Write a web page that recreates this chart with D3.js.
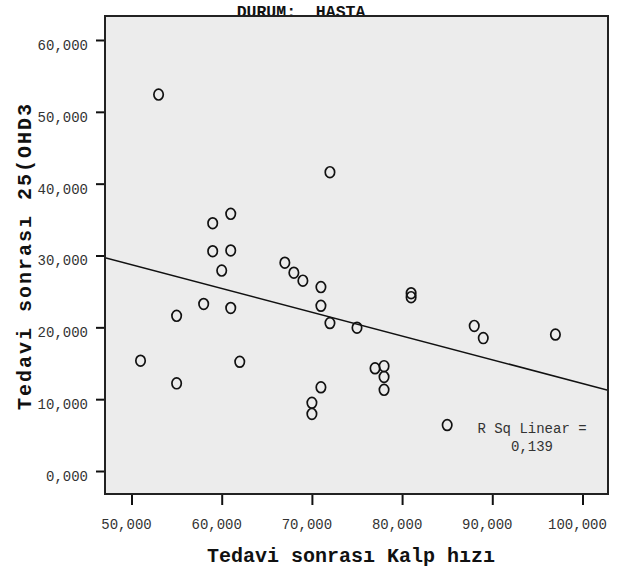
<!DOCTYPE html>
<html>
<head>
<meta charset="utf-8">
<script src="https://cdn.jsdelivr.net/npm/d3@7"></script>
<style>
  body { margin: 0; background: #fff; }
  text { font-family: "Courier New", "Liberation Mono", monospace; }
</style>
</head>
<body>
<div id="chart"></div>
<script>
// values (thousands shown with comma decimals)
const kalpHizi = [53, 72, 61, 59, 59, 61, 60, 67, 68, 69, 71, 71, 58, 61, 55, 72, 75,
                  51, 62, 55, 71, 70, 70, 81, 81, 88, 89, 97, 77, 78, 78, 78, 85];
const ohd3 = [52.4, 41.6, 35.8, 34.5, 30.6, 30.7, 27.9, 29.0, 27.6, 26.5, 25.6, 23.0, 23.25, 22.7, 21.6, 20.6, 19.95,
              15.35, 15.2, 12.2, 11.65, 9.5, 7.95, 24.75, 24.2, 20.2, 18.5, 19.0, 14.3, 14.6, 13.1, 11.3, 6.4];
const xTicks = [50, 60, 70, 80, 90, 100];
const yTicks = [0, 10, 20, 30, 40, 50, 60];
const rSqLines = ["R Sq Linear =", "0,139"];
const chartTitle = "DURUM:  HASTA";
const xTitle = "Tedavi sonrası Kalp hızı";
const yTitle = "Tedavi sonrası 25(OHD3";

const width = 632, height = 579;
const plot = { left: 105, right: 608, top: 16, bottom: 494 };

const points = kalpHizi.map((k, i) => ({ x: k, y: ohd3[i] }));

// turkish style number format: 50,000
const trFormat = d3.formatLocale({ decimal: ",", thousands: ".", grouping: [3], currency: ["", ""] }).format(".3f");

const x = d3.scaleLinear().domain([47.06, 102.83]).range([plot.left, plot.right]);
const y = d3.scaleLinear().domain([-3.2, 63.34]).range([plot.bottom, plot.top]);

const svg = d3.select("#chart")
  .append("svg")
  .attr("width", width)
  .attr("height", height);

// title sits behind the frame, its bottom is hidden
svg.append("text")
  .attr("x", 301)
  .attr("y", 17)
  .attr("text-anchor", "middle")
  .attr("font-size", 16.5)
  .attr("font-weight", "bold")
  .attr("fill", "#111")
  .style("white-space", "pre")
  .text(chartTitle);

svg.append("rect")
  .attr("x", plot.left)
  .attr("y", plot.top)
  .attr("width", plot.right - plot.left)
  .attr("height", plot.bottom - plot.top)
  .attr("fill", "#ececec");

svg.append("clipPath")
  .attr("id", "clip")
  .append("rect")
  .attr("x", plot.left)
  .attr("y", plot.top)
  .attr("width", plot.right - plot.left)
  .attr("height", plot.bottom - plot.top);

// axes
const yAxis = d3.axisLeft(y).tickValues(yTicks).tickSize(9).tickPadding(8).tickFormat(trFormat);
const gy = svg.append("g")
  .attr("transform", "translate(" + [plot.left, 0] + ")")
  .call(yAxis);
gy.select(".domain").remove();
gy.selectAll("line").attr("stroke", "#111").attr("stroke-width", 2);
gy.selectAll("text")
  .attr("font-family", null)
  .attr("font-size", 14)
  .attr("fill", "#333")
  .attr("y", 5);

const xAxis = d3.axisBottom(x).tickValues(xTicks).tickSize(11).tickPadding(14).tickFormat(trFormat);
const gx = svg.append("g")
  .attr("transform", "translate(" + [0, plot.bottom] + ")")
  .call(xAxis);
gx.select(".domain").remove();
gx.selectAll("line").attr("stroke", "#111").attr("stroke-width", 2);
gx.selectAll("text")
  .attr("font-family", null)
  .attr("font-size", 14)
  .attr("fill", "#333")
  .attr("x", -5.5);

// fit line (least squares)
const mx = d3.mean(points, d => d.x), my = d3.mean(points, d => d.y);
const slope = d3.sum(points, d => (d.x - mx) * (d.y - my)) / d3.sum(points, d => (d.x - mx) ** 2);
const icept = my - slope * mx;
const xd = x.domain();

const inner = svg.append("g").attr("clip-path", "url(#clip)");
inner.append("line")
  .attr("x1", x(xd[0]))
  .attr("y1", y(icept + slope * xd[0]))
  .attr("x2", x(xd[1]))
  .attr("y2", y(icept + slope * xd[1]))
  .attr("stroke", "#111")
  .attr("stroke-width", 1.5);

inner.selectAll("ellipse")
  .data(points)
  .enter()
  .append("ellipse")
  .attr("cx", d => x(d.x))
  .attr("cy", d => y(d.y))
  .attr("rx", 4.7)
  .attr("ry", 5.4)
  .attr("fill", "none")
  .attr("stroke", "#111")
  .attr("stroke-width", 1.7);

// r square note
svg.append("text")
  .attr("x", 532)
  .attr("y", 433)
  .attr("text-anchor", "middle")
  .attr("font-size", 14)
  .attr("fill", "#333")
  .selectAll("tspan")
  .data(rSqLines)
  .enter()
  .append("tspan")
  .attr("x", 532)
  .attr("dy", (d, i) => i ? 18 : 0)
  .text(d => d);

// frame on top
svg.append("rect")
  .attr("x", plot.left)
  .attr("y", plot.top)
  .attr("width", plot.right - plot.left)
  .attr("height", plot.bottom - plot.top)
  .attr("fill", "none")
  .attr("stroke", "#222")
  .attr("stroke-width", 2);

// axis titles
svg.append("text")
  .attr("x", 351)
  .attr("y", 562)
  .attr("text-anchor", "middle")
  .attr("font-size", 20)
  .attr("font-weight", "bold")
  .attr("fill", "#111")
  .text(xTitle);

svg.append("text")
  .attr("transform", "translate(" + [31, 256] + ") rotate(-90)")
  .attr("text-anchor", "middle")
  .attr("font-size", 20)
  .attr("font-weight", "bold")
  .attr("letter-spacing", 2)
  .attr("fill", "#111")
  .text(yTitle);
</script>
</body>
</html>
